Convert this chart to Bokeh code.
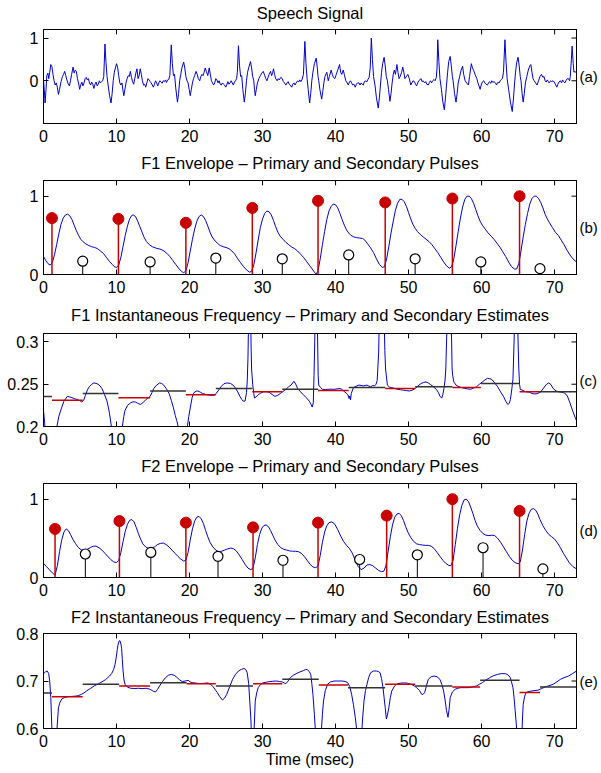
from bokeh.plotting import figure
from bokeh.layouts import column
from bokeh.models import LinearAxis, FixedTicker, CustomJSTickFormatter, Range1d
from bokeh.embed import file_html
from bokeh.resources import INLINE

# ---------------- data ----------------
x_ticks = [0, 10, 20, 30, 40, 50, 60, 70]

speech_pts = [
    (0.0,0.02),(0.1,-0.2),(0.22,-0.52),(0.35,-0.2),(0.45,0.12),(0.6,0.18),(0.72,0.05),(0.85,0.2),(1.0,0.38),(1.15,0.33),(1.3,0.15),(1.45,0.0),(1.6,-0.1),(1.75,-0.05),(1.9,-0.15),(2.05,-0.32),(2.2,-0.2),(2.4,-0.02),(2.6,0.1),(2.75,0.15),(2.9,0.22),(3.05,0.12),(3.2,0.02),(3.4,-0.08),(3.55,-0.12),(3.7,0.0),(3.85,0.15),(4.05,0.32),(4.2,0.18),(4.35,0.25),(4.5,0.22),(4.65,0.05),(4.8,-0.05),(4.95,-0.2),(5.1,-0.1),(5.25,-0.03),(5.4,-0.12),(5.55,-0.05),(5.7,0.05),(5.85,0.08),(6.0,0.02),(6.15,0.05),(6.3,-0.05),(6.45,-0.1),(6.6,-0.03),(6.75,-0.08),(6.9,-0.18),(7.05,-0.08),(7.2,-0.03),(7.35,-0.12),(7.5,-0.08),(7.65,0.0),(7.8,-0.05),(7.95,-0.02),(8.1,0.0),(8.25,0.1),(8.42,0.86),
    (8.55,0.45),(8.7,0.1),(8.85,-0.1),(9.05,-0.35),(9.25,-0.52),(9.4,-0.3),(9.55,0.0),(9.7,0.2),(9.85,0.3),(10.0,0.4),(10.15,0.32),(10.3,0.12),(10.45,-0.05),(10.6,-0.1),(10.75,-0.05),(10.9,-0.25),(11.0,-0.35),(11.15,-0.2),(11.3,-0.05),(11.45,0.05),(11.6,0.12),(11.75,0.1),(11.9,0.22),(12.05,0.08),(12.2,-0.02),(12.35,-0.08),(12.5,0.05),(12.65,0.18),(12.8,0.28),(12.95,0.05),(13.1,0.12),(13.25,0.28),(13.4,0.15),(13.55,0.0),(13.7,-0.1),(13.85,-0.08),(14.0,-0.15),(14.15,-0.05),(14.3,0.05),(14.45,0.02),(14.6,-0.02),(14.75,-0.05),(14.9,-0.1),(15.05,-0.15),(15.2,-0.08),(15.35,0.0),(15.5,-0.05),(15.65,-0.12),(15.8,-0.05),(15.95,0.0),(16.1,-0.03),(16.25,-0.06),(16.4,0.0),(16.55,-0.02),(16.7,0.02),(16.85,-0.04),(17.0,0.02),(17.15,0.03),(17.3,0.12),(17.5,0.84),
    (17.65,0.4),(17.8,0.12),(17.95,0.15),(18.1,-0.15),(18.35,-0.5),(18.5,-0.3),(18.65,0.0),(18.8,0.15),(18.95,0.3),(19.2,0.44),(19.35,0.3),(19.5,0.1),(19.65,0.0),(19.8,-0.05),(19.95,-0.2),(20.1,-0.35),(20.25,-0.2),(20.4,-0.05),(20.55,0.05),(20.7,0.12),(20.9,0.22),(21.05,0.15),(21.2,0.05),(21.4,0.0),(21.55,0.1),(21.7,0.15),(21.85,0.12),(22.0,0.2),(22.15,0.3),(22.3,0.22),(22.5,0.12),(22.7,0.3),(22.85,0.15),(23.0,0.0),(23.15,-0.05),(23.3,-0.1),(23.45,-0.05),(23.6,0.05),(23.75,0.02),(23.9,-0.05),(24.05,0.0),(24.2,-0.08),(24.35,-0.1),(24.5,-0.05),(24.65,-0.08),(24.8,-0.1),(24.95,-0.15),(25.1,-0.1),(25.25,-0.02),(25.4,-0.08),(25.55,-0.05),(25.7,0.0),(25.85,-0.05),(26.0,-0.1),(26.15,-0.03),(26.3,0.0),(26.45,0.05),(26.55,0.2),(26.7,0.82),
    (26.85,0.35),(27.0,0.1),(27.15,0.12),(27.3,-0.2),(27.5,-0.5),(27.65,-0.3),(27.8,0.0),(27.95,0.2),(28.1,0.3),(28.35,0.45),(28.5,0.3),(28.65,0.1),(28.8,0.0),(28.9,-0.2),(29.0,-0.35),(29.15,-0.2),(29.3,-0.05),(29.5,0.05),(29.7,0.12),(29.9,0.18),(30.1,0.22),(30.3,0.12),(30.45,0.05),(30.6,0.0),(30.75,0.08),(30.9,0.15),(31.1,0.22),(31.25,0.12),(31.4,0.2),(31.5,0.28),(31.65,0.15),(31.8,0.05),(32.0,0.0),(32.15,0.05),(32.3,0.02),(32.5,0.08),(32.7,0.05),(32.85,-0.02),(33.0,-0.05),(33.2,-0.1),(33.35,-0.05),(33.5,-0.02),(33.65,-0.08),(33.8,-0.1),(34.0,-0.15),(34.15,-0.08),(34.3,-0.05),(34.45,-0.1),(34.6,-0.05),(34.8,0.0),(34.95,-0.03),(35.1,0.02),(35.25,-0.02),(35.4,0.02),(35.6,0.15),(35.8,0.92),
    (35.95,0.4),(36.1,0.05),(36.25,-0.2),(36.45,-0.52),(36.6,-0.3),(36.75,0.0),(36.9,0.2),(37.1,0.4),(37.35,0.53),(37.5,0.3),(37.6,0.1),(37.7,0.0),(37.85,-0.2),(38.1,-0.43),(38.25,-0.25),(38.4,-0.05),(38.55,0.1),(38.8,0.2),(38.9,0.1),(39.0,0.0),(39.15,0.1),(39.4,0.25),(39.55,0.15),(39.7,0.08),(39.9,0.05),(40.1,0.15),(40.3,0.25),(40.55,0.38),(40.7,0.2),(40.85,0.15),(41.05,0.25),(41.2,0.15),(41.4,0.0),(41.6,-0.05),(41.75,-0.1),(41.9,-0.03),(42.05,0.0),(42.2,-0.05),(42.35,-0.1),(42.5,-0.08),(42.7,-0.15),(42.85,-0.08),(43.0,-0.05),(43.2,-0.05),(43.35,-0.1),(43.5,-0.05),(43.65,-0.08),(43.8,-0.1),(43.95,-0.02),(44.1,0.0),(44.25,-0.03),(44.4,0.02),(44.6,0.08),(44.75,0.3),(44.9,1.0),
    (45.05,0.5),(45.2,0.1),(45.4,-0.1),(45.6,-0.4),(45.85,-0.64),(46.0,-0.4),(46.15,-0.1),(46.3,0.2),(46.45,0.4),(46.65,0.55),(46.8,0.35),(46.95,0.1),(47.1,0.0),(47.25,-0.2),(47.45,-0.48),(47.6,-0.3),(47.75,-0.05),(47.9,0.15),(48.05,0.25),(48.2,0.15),(48.4,0.38),(48.55,0.2),(48.7,0.05),(48.85,0.1),(49.05,0.2),(49.2,0.32),(49.35,0.2),(49.5,0.05),(49.7,0.1),(49.9,0.15),(50.1,0.05),(50.3,-0.1),(50.45,-0.05),(50.6,0.0),(50.8,-0.02),(50.95,-0.08),(51.1,-0.12),(51.25,-0.05),(51.4,0.0),(51.55,0.02),(51.7,0.05),(51.85,-0.02),(52.0,0.0),(52.2,-0.05),(52.35,-0.02),(52.5,-0.08),(52.7,-0.1),(52.85,-0.04),(53.0,0.0),(53.15,-0.05),(53.3,0.0),(53.5,0.03),(53.65,0.0),(53.8,0.08),(53.9,0.3),(54.0,0.96),
    (54.15,0.45),(54.3,0.05),(54.5,-0.2),(54.7,-0.5),(54.9,-0.68),(55.05,-0.4),(55.2,-0.1),(55.35,0.2),(55.5,0.45),(55.7,0.57),(55.85,0.35),(56.0,0.1),(56.1,0.0),(56.3,-0.3),(56.5,-0.5),(56.65,-0.3),(56.8,-0.05),(57.0,0.1),(57.2,0.25),(57.4,0.34),(57.55,0.15),(57.75,0.0),(57.95,-0.05),(58.2,-0.1),(58.35,0.1),(58.6,0.4),(58.75,0.3),(58.9,0.25),(59.1,0.15),(59.35,0.05),(59.5,-0.05),(59.65,-0.12),(59.8,-0.2),(59.95,-0.1),(60.1,-0.03),(60.3,0.0),(60.45,-0.05),(60.6,-0.08),(60.8,-0.1),(60.95,-0.05),(61.1,-0.02),(61.25,-0.06),(61.4,0.0),(61.55,-0.04),(61.7,-0.02),(61.9,-0.05),(62.05,-0.1),(62.2,-0.04),(62.4,-0.05),(62.55,0.0),(62.7,0.03),(62.85,0.05),(63.0,0.2),(63.2,0.96),
    (63.35,0.45),(63.5,0.05),(63.7,-0.2),(63.95,-0.5),(64.2,-0.72),(64.35,-0.45),(64.5,-0.1),(64.65,0.2),(64.8,0.42),(65.0,0.55),(65.15,0.35),(65.3,0.1),(65.4,0.0),(65.55,-0.3),(65.7,-0.5),(65.85,-0.3),(66.0,-0.05),(66.2,0.1),(66.4,0.25),(66.6,0.35),(66.75,0.38),(66.9,0.2),(67.05,0.05),(67.2,0.0),(67.4,-0.05),(67.6,-0.1),(67.8,0.0),(68.0,0.1),(68.2,0.15),(68.4,0.08),(68.55,0.1),(68.7,0.0),(68.85,-0.03),(69.0,0.02),(69.15,-0.02),(69.25,-0.05),(69.45,0.0),(69.6,-0.02),(69.8,0.0),(69.95,-0.03),(70.1,-0.08),(70.3,-0.15),(70.45,-0.08),(70.6,-0.03),(70.8,0.0),(70.95,-0.05),(71.1,0.02),(71.25,-0.02),(71.4,-0.05),(71.55,0.0),(71.75,0.05),(71.9,0.05),(72.05,0.0),(72.15,0.1),(72.3,0.5),(72.4,0.81),(72.55,0.4),(72.65,0.2),(72.8,0.22),(73.0,0.18),
]

f1_env_pts = [
    (0.0,0.23),(0.3,0.18),(0.6,0.14),(0.9,0.12),(1.2,0.15),(1.5,0.25),(1.8,0.38),(2.1,0.52),(2.4,0.64),(2.7,0.72),(3.0,0.76),(3.3,0.77),(3.6,0.75),(3.9,0.7),(4.2,0.63),(4.5,0.56),(4.8,0.5),(5.1,0.45),(5.4,0.42),(5.8,0.39),(6.2,0.37),(6.6,0.355),(7.0,0.345),(7.4,0.33),(7.8,0.3),(8.2,0.27),(8.6,0.22),(9.0,0.17),(9.4,0.13),(9.7,0.1),(10.0,0.09),(10.3,0.12),(10.6,0.22),(10.9,0.36),(11.2,0.5),(11.5,0.62),(11.8,0.71),(12.1,0.755),(12.3,0.76),(12.6,0.74),(12.9,0.68),(13.2,0.61),(13.5,0.54),(13.8,0.47),(14.1,0.42),(14.5,0.38),(14.9,0.355),(15.3,0.34),(15.7,0.33),(16.1,0.32),(16.5,0.3),(16.9,0.27),(17.3,0.23),(17.7,0.18),(18.1,0.13),(18.5,0.08),(18.9,0.04),(19.2,0.02),(19.5,0.05),(19.8,0.15),(20.1,0.3),(20.4,0.45),(20.7,0.58),(21.0,0.68),(21.3,0.74),(21.6,0.76),(21.9,0.74),(22.2,0.69),(22.5,0.62),(22.8,0.54),(23.1,0.48),(23.4,0.44),(23.8,0.4),(24.2,0.37),(24.6,0.355),(25.0,0.345),(25.4,0.33),(25.8,0.3),(26.2,0.26),(26.6,0.2),(27.0,0.15),(27.4,0.1),(27.8,0.06),(28.2,0.03),(28.5,0.04),(28.8,0.12),(29.1,0.27),(29.4,0.44),(29.7,0.6),(30.0,0.71),(30.3,0.78),(30.6,0.81),(30.9,0.8),(31.2,0.76),(31.5,0.69),(31.8,0.61),(32.1,0.54),(32.4,0.49),(32.8,0.45),(33.2,0.41),(33.6,0.38),(34.0,0.35),(34.4,0.33),(34.8,0.3),(35.2,0.26),(35.6,0.22),(36.0,0.17),(36.4,0.12),(36.8,0.07),(37.1,0.03),(37.35,0.0),(37.6,0.05),(37.9,0.2),(38.2,0.38),(38.5,0.55),(38.8,0.7),(39.1,0.81),(39.4,0.87),(39.7,0.9),(40.0,0.89),(40.3,0.85),(40.6,0.78),(40.9,0.7),(41.2,0.63),(41.5,0.57),(41.8,0.53),(42.1,0.5),(42.5,0.48),(42.9,0.47),(43.3,0.465),(43.7,0.46),(44.0,0.44),(44.4,0.39),(44.8,0.34),(45.2,0.28),(45.6,0.2),(46.0,0.13),(46.4,0.09),(46.7,0.1),(47.0,0.2),(47.3,0.36),(47.6,0.53),(47.9,0.68),(48.2,0.82),(48.5,0.91),(48.8,0.96),(49.1,0.96),(49.4,0.93),(49.7,0.87),(50.0,0.79),(50.3,0.71),(50.6,0.64),(50.9,0.59),(51.2,0.55),(51.6,0.51),(52.0,0.48),(52.4,0.45),(52.8,0.42),(53.2,0.38),(53.6,0.33),(54.0,0.28),(54.4,0.22),(54.8,0.16),(55.2,0.11),(55.6,0.08),(55.9,0.1),(56.2,0.2),(56.5,0.37),(56.8,0.55),(57.1,0.72),(57.4,0.86),(57.7,0.96),(58.0,1.0),(58.3,1.0),(58.6,0.97),(58.9,0.91),(59.2,0.83),(59.5,0.75),(59.8,0.68),(60.1,0.63),(60.5,0.58),(60.9,0.53),(61.3,0.49),(61.7,0.45),(62.1,0.4),(62.5,0.35),(62.9,0.29),(63.3,0.23),(63.7,0.16),(64.1,0.1),(64.5,0.07),(64.8,0.07),(65.1,0.14),(65.4,0.3),(65.7,0.48),(66.0,0.64),(66.3,0.78),(66.6,0.9),(66.9,0.97),(67.2,1.0),(67.5,1.0),(67.8,0.97),(68.1,0.92),(68.4,0.85),(68.7,0.77),(69.0,0.71),(69.3,0.66),(69.7,0.6),(70.1,0.54),(70.5,0.5),(70.9,0.44),(71.3,0.38),(71.7,0.31),(72.1,0.25),(72.5,0.2),(73.0,0.16),
]
f1_prim_t = [1.16, 10.26, 19.5, 28.6, 37.6, 46.8, 56.0, 65.2]
f1_prim_v = [0.72, 0.71, 0.66, 0.85, 0.94, 0.92, 0.97, 1.0]
f1_sec_t = [5.37, 14.6, 23.6, 32.7, 41.8, 50.9, 59.9, 68.0]
f1_sec_v = [0.17, 0.16, 0.21, 0.20, 0.25, 0.20, 0.16, 0.075]

f1_if_pts = [
    (0.0,0.219),(0.15,0.205),(0.35,0.18),(1.0,0.15),(1.6,0.17),(1.84,0.2),(2.1,0.212),(2.47,0.222),(2.8,0.23),(3.26,0.2356),(3.8,0.2345),(4.2,0.233),(4.6,0.232),(5.0,0.2305),(5.25,0.229),(5.5,0.231),(5.75,0.237),(6.0,0.243),(6.26,0.247),(6.6,0.25),(6.9,0.2515),(7.2,0.251),(7.47,0.25),(7.75,0.248),(8.0,0.245),(8.35,0.238),(8.7,0.23),(8.9,0.222),(9.05,0.215),(9.3,0.2),(9.6,0.17),(10.2,0.15),(10.6,0.18),(10.8,0.2),(11.0,0.212),(11.15,0.2186),(11.5,0.225),(11.94,0.228),(12.25,0.2292),(12.57,0.229),(12.9,0.2275),(13.26,0.226),(13.6,0.228),(14.05,0.232),(14.35,0.234),(14.6,0.2356),(14.85,0.24),(15.1,0.245),(15.5,0.249),(15.9,0.2515),(16.15,0.251),(16.4,0.2496),(16.8,0.245),(17.2,0.239),(17.5,0.231),(17.8,0.222),(18.05,0.213),(18.25,0.207),(18.5,0.198),(18.9,0.17),(19.3,0.17),(19.7,0.2),(19.9,0.212),(20.1,0.222),(20.35,0.234),(20.6,0.24),(20.9,0.2418),(21.15,0.242),(21.5,0.2405),(21.8,0.239),(22.2,0.238),(22.7,0.237),(23.1,0.2368),(23.5,0.2375),(23.9,0.242),(24.3,0.247),(24.7,0.2505),(25.1,0.2515),(25.6,0.251),(25.95,0.249),(26.25,0.246),(26.6,0.241),(26.9,0.2356),(27.15,0.232),(27.35,0.23),(27.6,0.23),(27.8,0.24),(27.9,0.2526),(28.0,0.28),(28.1,0.33),(28.2,0.4),(28.35,0.4),(28.42,0.3),(28.5,0.268),(28.65,0.25),(28.8,0.239),(28.9,0.2337),(29.1,0.235),(29.4,0.2375),(29.75,0.2395),(30.1,0.241),(30.5,0.2412),(30.9,0.2405),(31.3,0.238),(31.7,0.2356),(32.1,0.237),(32.45,0.239),(32.8,0.2415),(33.2,0.244),(33.55,0.2468),(33.9,0.249),(34.3,0.2535),(34.55,0.25),(34.8,0.245),(35.2,0.241),(35.6,0.2375),(36.0,0.234),(36.4,0.23),(36.65,0.226),(36.8,0.223),(36.95,0.228),(37.05,0.26),(37.15,0.3),(37.25,0.35),(37.32,0.31),(37.38,0.33),(37.45,0.35),(37.55,0.3),(37.62,0.26),(37.7,0.249),(37.95,0.246),(38.2,0.244),(38.6,0.2438),(39.0,0.244),(39.4,0.2442),(39.8,0.244),(40.2,0.2445),(40.6,0.245),(40.85,0.244),(41.1,0.242),(41.45,0.2395),(41.7,0.2375),(41.85,0.233),(41.95,0.236),(42.05,0.2315),(42.15,0.239),(42.45,0.246),(42.8,0.2475),(43.2,0.249),(43.5,0.2485),(43.8,0.248),(44.05,0.2485),(44.3,0.249),(44.55,0.2478),(44.8,0.247),(45.1,0.2485),(45.35,0.248),(45.55,0.25),(45.7,0.2545),(45.9,0.2867),(46.0,0.33),(46.35,0.4),(46.65,0.33),(46.75,0.29),(46.85,0.268),(47.1,0.249),(47.4,0.2465),(47.7,0.246),(48.1,0.245),(48.5,0.244),(48.9,0.2435),(49.3,0.243),(49.7,0.2425),(50.1,0.242),(50.5,0.243),(50.9,0.245),(51.3,0.248),(51.7,0.2508),(52.05,0.2522),(52.4,0.2527),(52.7,0.2515),(53.0,0.2496),(53.4,0.247),(53.8,0.244),(54.1,0.24),(54.3,0.2356),(54.55,0.2337),(54.7,0.238),(54.85,0.245),(55.0,0.255),(55.1,0.268),(55.2,0.3),(55.55,0.4),(55.9,0.3),(55.96,0.268),(56.05,0.26),(56.2,0.2527),(56.5,0.249),(56.9,0.247),(57.3,0.246),(57.7,0.245),(58.1,0.2445),(58.5,0.244),(58.9,0.2455),(59.3,0.247),(59.7,0.25),(60.1,0.2527),(60.45,0.255),(60.8,0.257),(61.1,0.2565),(61.4,0.2557),(61.8,0.2515),(62.2,0.247),(62.6,0.241),(63.0,0.2356),(63.3,0.23),(63.6,0.226),(63.8,0.2275),(63.95,0.232),(64.15,0.245),(64.3,0.2564),(64.45,0.3),(64.75,0.4),(65.0,0.3),(65.1,0.268),(65.2,0.25),(65.3,0.244),(65.7,0.2425),(66.1,0.241),(66.5,0.2408),(66.9,0.239),(67.3,0.2385),(67.7,0.239),(68.1,0.241),(68.5,0.2455),(68.9,0.25),(69.2,0.2515),(69.5,0.2495),(69.8,0.245),(70.2,0.242),(70.6,0.241),(71.0,0.2405),(71.4,0.2395),(71.75,0.236),(72.1,0.228),(72.5,0.218),(72.8,0.211),(73.0,0.207),
]
f1_prim_seg_x0 = [1.16, 10.26, 19.5, 28.6, 37.6, 46.8, 56.0, 65.2]
f1_prim_seg_x1 = [5.37, 14.6, 23.6, 32.7, 41.8, 50.9, 59.9, 68.0]
f1_prim_seg_y = [0.231, 0.234, 0.2375, 0.241, 0.2425, 0.245, 0.246, 0.241]
f1_sec_seg_x0 = [-3.0, 5.37, 14.6, 23.6, 32.7, 41.8, 50.9, 59.9, 68.0]
f1_sec_seg_x1 = [1.16, 10.26, 19.5, 28.6, 37.6, 46.8, 56.0, 65.2, 73.0]
f1_sec_seg_y = [0.2356, 0.239, 0.242, 0.245, 0.244, 0.246, 0.247, 0.251, 0.241]

f2_env_pts = [
    (0.0,0.18),(0.4,0.14),(0.8,0.1),(1.2,0.06),(1.58,0.03),(1.9,0.15),(2.2,0.33),(2.5,0.48),(2.8,0.58),(3.1,0.62),(3.4,0.6),(3.7,0.55),(4.0,0.49),(4.4,0.43),(4.8,0.38),(5.2,0.35),(5.6,0.345),(6.0,0.36),(6.4,0.38),(6.8,0.4),(7.2,0.4),(7.6,0.38),(8.0,0.35),(8.4,0.31),(8.8,0.27),(9.2,0.23),(9.6,0.2),(10.0,0.19),(10.3,0.22),(10.6,0.32),(10.9,0.46),(11.2,0.59),(11.5,0.68),(11.8,0.73),(12.1,0.74),(12.4,0.71),(12.7,0.64),(13.0,0.56),(13.3,0.49),(13.6,0.43),(14.0,0.39),(14.4,0.37),(14.8,0.375),(15.2,0.39),(15.6,0.42),(16.0,0.435),(16.4,0.44),(16.8,0.42),(17.2,0.39),(17.6,0.35),(18.0,0.31),(18.4,0.27),(18.8,0.235),(19.2,0.21),(19.5,0.22),(19.8,0.32),(20.1,0.48),(20.4,0.62),(20.7,0.72),(21.0,0.77),(21.3,0.78),(21.6,0.75),(21.9,0.69),(22.2,0.6),(22.5,0.52),(22.8,0.45),(23.2,0.39),(23.6,0.35),(24.0,0.33),(24.4,0.335),(24.8,0.35),(25.2,0.365),(25.6,0.375),(26.0,0.37),(26.4,0.34),(26.8,0.29),(27.2,0.23),(27.6,0.17),(28.0,0.12),(28.4,0.1),(28.7,0.12),(29.0,0.25),(29.3,0.42),(29.6,0.55),(29.9,0.63),(30.2,0.665),(30.5,0.67),(30.8,0.65),(31.1,0.6),(31.4,0.54),(31.7,0.48),(32.1,0.42),(32.5,0.38),(32.9,0.36),(33.3,0.35),(33.7,0.34),(34.1,0.335),(34.5,0.335),(34.9,0.33),(35.3,0.31),(35.7,0.27),(36.1,0.22),(36.5,0.17),(36.9,0.135),(37.3,0.125),(37.6,0.15),(37.9,0.28),(38.2,0.45),(38.5,0.58),(38.8,0.66),(39.1,0.7),(39.5,0.71),(39.9,0.68),(40.3,0.61),(40.7,0.53),(41.1,0.46),(41.5,0.41),(41.9,0.37),(42.3,0.31),(42.7,0.22),(43.1,0.14),(43.5,0.1),(43.9,0.12),(44.3,0.16),(44.7,0.165),(45.1,0.15),(45.5,0.12),(45.9,0.09),(46.3,0.075),(46.6,0.08),(46.9,0.15),(47.2,0.33),(47.5,0.52),(47.8,0.67),(48.1,0.77),(48.4,0.81),(48.7,0.82),(49.0,0.79),(49.3,0.73),(49.6,0.65),(49.9,0.58),(50.3,0.51),(50.7,0.46),(51.1,0.43),(51.5,0.42),(51.9,0.415),(52.3,0.41),(52.7,0.41),(53.1,0.4),(53.5,0.37),(53.9,0.32),(54.3,0.27),(54.7,0.22),(55.1,0.18),(55.5,0.155),(55.8,0.15),(56.1,0.22),(56.4,0.42),(56.7,0.63),(57.0,0.8),(57.3,0.92),(57.6,0.99),(57.9,1.0),(58.2,0.97),(58.5,0.9),(58.8,0.82),(59.1,0.73),(59.4,0.66),(59.8,0.6),(60.2,0.56),(60.6,0.54),(61.0,0.535),(61.4,0.54),(61.8,0.535),(62.2,0.5),(62.6,0.45),(63.0,0.39),(63.4,0.33),(63.8,0.27),(64.2,0.22),(64.6,0.19),(65.0,0.175),(65.3,0.2),(65.6,0.35),(65.9,0.55),(66.2,0.72),(66.5,0.82),(66.8,0.87),(67.1,0.88),(67.4,0.86),(67.7,0.81),(68.0,0.74),(68.4,0.66),(68.8,0.6),(69.2,0.55),(69.6,0.52),(70.0,0.49),(70.4,0.44),(70.8,0.38),(71.2,0.31),(71.6,0.25),(72.0,0.19),(72.5,0.14),(73.0,0.11),
]
f2_prim_t = [1.58, 10.4, 19.5, 28.7, 37.6, 47.0, 56.0, 65.2]
f2_prim_v = [0.62, 0.72, 0.70, 0.64, 0.70, 0.79, 1.0, 0.85]
f2_sec_t = [5.73, 14.7, 23.9, 32.8, 43.3, 51.2, 60.2, 68.4]
f2_sec_v = [0.30, 0.32, 0.27, 0.22, 0.23, 0.29, 0.38, 0.11]

f2_if_pts = [
    (0.0,0.7153),(0.25,0.719),(0.5,0.721),(0.7,0.716),(0.85,0.7),(1.0,0.665),(1.1,0.62),(1.25,0.56),(1.55,0.54),(1.75,0.57),(1.85,0.6),(2.05,0.644),(2.25,0.655),(2.5,0.662),(2.85,0.665),(3.26,0.667),(3.8,0.6675),(4.3,0.668),(4.75,0.669),(5.2,0.672),(5.55,0.675),(5.9,0.679),(6.4,0.684),(6.94,0.6896),(7.5,0.694),(8.0,0.698),(8.5,0.703),(9.05,0.7104),(9.35,0.716),(9.6,0.724),(9.8,0.735),(9.95,0.7486),(10.1,0.766),(10.2,0.776),(10.35,0.784),(10.47,0.785),(10.6,0.778),(10.7,0.769),(10.8,0.745),(10.9,0.721),(11.05,0.7),(11.2,0.6917),(11.5,0.687),(11.94,0.6847),(12.5,0.6842),(13.0,0.6847),(13.5,0.684),(14.05,0.6847),(14.5,0.683),(14.8,0.6806),(15.1,0.678),(15.36,0.677),(15.6,0.682),(15.9,0.6896),(16.3,0.699),(16.7,0.707),(17.1,0.712),(17.5,0.714),(17.9,0.712),(18.25,0.708),(18.6,0.703),(19.0,0.6986),(19.4,0.7),(19.8,0.7014),(20.1,0.698),(20.36,0.6965),(20.9,0.6955),(21.4,0.6944),(21.95,0.695),(22.5,0.696),(22.9,0.693),(23.25,0.6875),(23.5,0.682),(23.8,0.6757),(24.1,0.668),(24.5,0.66),(24.8,0.664),(25.1,0.672),(25.5,0.688),(25.9,0.7035),(26.3,0.714),(26.7,0.721),(27.1,0.7245),(27.46,0.7264),(27.7,0.724),(27.9,0.7174),(28.1,0.695),(28.25,0.658),(28.4,0.62),(28.55,0.56),(28.7,0.56),(28.85,0.6),(29.0,0.658),(29.2,0.675),(29.4,0.686),(29.75,0.693),(30.1,0.6965),(30.5,0.6975),(30.9,0.6986),(31.4,0.6995),(31.9,0.7),(32.3,0.699),(32.7,0.698),(32.95,0.696),(33.2,0.6944),(33.5,0.7),(33.8,0.707),(34.2,0.712),(34.6,0.7153),(35.1,0.719),(35.6,0.722),(35.9,0.724),(36.1,0.7243),(36.4,0.72),(36.6,0.714),(36.75,0.695),(36.9,0.672),(37.1,0.63),(37.3,0.58),(37.7,0.55),(38.0,0.58),(38.2,0.63),(38.35,0.658),(38.6,0.68),(38.9,0.693),(39.3,0.698),(39.8,0.7),(40.3,0.7),(40.9,0.7),(41.3,0.699),(41.66,0.6965),(41.95,0.688),(42.2,0.672),(42.45,0.65),(42.7,0.6236),(42.95,0.59),(43.2,0.55),(43.5,0.57),(43.7,0.62),(43.9,0.658),(44.1,0.68),(44.3,0.693),(44.55,0.708),(44.8,0.7174),(45.2,0.721),(45.6,0.721),(45.85,0.72),(46.1,0.7174),(46.3,0.705),(46.5,0.686),(46.65,0.665),(46.8,0.644),(46.96,0.62),(47.1,0.628),(47.3,0.644),(47.5,0.665),(47.7,0.679),(48.1,0.69),(48.5,0.6944),(48.9,0.6955),(49.3,0.696),(49.8,0.6955),(50.35,0.693),(50.75,0.69),(51.1,0.686),(51.5,0.68),(51.8,0.672),(52.0,0.672),(52.2,0.6757),(52.45,0.69),(52.7,0.7035),(53.1,0.709),(53.5,0.7104),(53.9,0.709),(54.3,0.7035),(54.55,0.693),(54.8,0.679),(55.0,0.66),(55.2,0.6375),(55.4,0.6236),(55.55,0.64),(55.7,0.665),(56.0,0.677),(56.4,0.6826),(56.8,0.685),(57.2,0.686),(57.7,0.686),(58.2,0.686),(58.7,0.6875),(59.3,0.6896),(59.7,0.693),(60.1,0.6965),(60.6,0.702),(61.1,0.707),(61.6,0.711),(62.2,0.714),(62.7,0.7155),(63.3,0.7153),(63.6,0.713),(63.9,0.708),(64.1,0.698),(64.3,0.686),(64.45,0.665),(64.6,0.6375),(64.75,0.61),(64.9,0.58),(65.2,0.55),(65.5,0.58),(65.6,0.62),(65.7,0.651),(65.9,0.668),(66.1,0.6757),(66.5,0.678),(66.9,0.679),(67.3,0.68),(67.7,0.6806),(68.2,0.684),(68.7,0.6875),(69.2,0.69),(69.8,0.693),(70.3,0.698),(70.8,0.7035),(71.3,0.707),(71.9,0.7104),(72.4,0.715),(73.0,0.721),
]
f2_prim_seg_x0 = [1.16, 10.36, 19.6, 28.7, 37.7, 46.8, 56.0, 65.2]
f2_prim_seg_x1 = [5.37, 14.6, 23.6, 32.7, 41.7, 50.9, 59.8, 68.0]
f2_prim_seg_y = [0.667, 0.6896, 0.6944, 0.6944, 0.6917, 0.693, 0.6875, 0.6757]
f2_sec_seg_x0 = [-3.0, 5.37, 14.6, 23.6, 32.7, 41.7, 50.9, 59.8, 68.0]
f2_sec_seg_x1 = [1.16, 10.36, 19.6, 28.7, 37.7, 46.8, 56.0, 65.2, 73.0]
f2_sec_seg_y = [0.6745, 0.693, 0.6965, 0.6896, 0.7035, 0.686, 0.6896, 0.7014, 0.6875]

titles = ["Speech Signal",
          "F1 Envelope \u2013 Primary and Secondary Pulses",
          "F1 Instantaneous Frequency \u2013 Primary and Secondary Estimates",
          "F2 Envelope \u2013 Primary and Secondary Pulses",
          "F2 Instantaneous Frequency \u2013 Primary and Secondary Estimates"]
tags = ["(a)", "(b)", "(c)", "(d)", "(e)"]
y_ranges = [(-1.0, 1.2), (0.0, 1.2), (0.2, 0.31), (0.0, 1.2), (0.6, 0.8)]
y_ticks = [[0, 1], [0, 1], [0.2, 0.25, 0.3], [0, 1], [0.6, 0.7, 0.8]]
x_label = "Time (msec)"

# ---------------- layout / style ----------------
FONT = "Liberation Sans"
FS = "16px"
TFS = "16.5px"
W = 601
BL, BR = 43, 25
FRAME_H = 96
FRAME_W = W - BL - BR
BLUE = "#0000cc"
RED = "#c80000"
DARK = "#333333"

# (figure height, border top, title standoff)
specs = [(150, 27, 8), (152, 28, 9), (151, 28, 10), (151, 28, 9), (168, 28, 8)]

fmt = CustomJSTickFormatter(code="return tick.toFixed(2).replace(/0+$/,'').replace(/\\.$/,'');")


def style_axis(ax, ticks, standoff):
    ax.ticker = FixedTicker(ticks=ticks)
    ax.major_tick_in = 5
    ax.major_tick_out = 0
    ax.minor_tick_in = 0
    ax.minor_tick_out = 0
    ax.axis_line_color = "black"
    ax.major_tick_line_color = "black"
    ax.major_label_standoff = standoff
    ax.major_label_text_font = FONT
    ax.major_label_text_color = "black"
    ax.major_label_text_font_size = FS
    ax.axis_label_text_font = FONT
    ax.axis_label_text_font_style = "normal"
    ax.axis_label_text_color = "black"
    ax.axis_label_text_font_size = FS


def make_fig(i):
    h, bt, tstand = specs[i]
    bb = h - bt - FRAME_H
    y0, y1 = y_ranges[i]
    p = figure(width=W, height=h, x_range=Range1d(0, 73), y_range=Range1d(y0, y1),
               output_backend="svg", toolbar_location=None, tools="",
               x_axis_location=None, y_axis_location=None,
               min_border_left=BL, min_border_right=BR,
               min_border_top=bt, min_border_bottom=bb)
    p.xgrid.visible = False
    p.ygrid.visible = False
    p.outline_line_color = "black"
    p.outline_line_width = 1
    p.background_fill_color = "white"
    p.border_fill_color = "white"

    bottom = LinearAxis()
    style_axis(bottom, x_ticks, 6)
    p.add_layout(bottom, "below")

    left = LinearAxis(formatter=fmt)
    style_axis(left, y_ticks[i], 5)
    p.add_layout(left, "left")

    # title as the label of a tick-less top axis
    top = LinearAxis(axis_label=titles[i])
    style_axis(top, [], 0)
    top.axis_label_text_font_size = TFS
    top.axis_label_standoff = tstand
    p.add_layout(top, "above")

    # panel tag as the label of a tick-less right axis
    right = LinearAxis(axis_label=tags[i])
    style_axis(right, [], 0)
    right.axis_label_standoff = 3
    right.axis_label_text_font_size = "15px"
    try:
        right.axis_label_orientation = "horizontal"
    except AttributeError:
        pass
    p.add_layout(right, "right")

    # mirrored inward ticks on the top and right edges (box style)
    ppu = FRAME_H / (y1 - y0)
    ppx = FRAME_W / 73.0
    n = len(x_ticks)
    p.segment(x0=x_ticks, y0=[y1] * n, x1=x_ticks, y1=[y1 - 5 / ppu] * n,
              line_color="black", line_width=1)
    m = len(y_ticks[i])
    p.segment(x0=[73] * m, y0=y_ticks[i], x1=[73 - 5 / ppx] * m, y1=y_ticks[i],
              line_color="black", line_width=1)
    return p, bottom


def xs(pts):
    return [a for a, b in pts]


def ys(pts):
    return [b for a, b in pts]


def pulses(p, env, pt, pv, st, sv):
    p.line(xs(env), ys(env), line_color=BLUE, line_width=1)
    p.segment(x0=pt, y0=[0] * len(pt), x1=pt, y1=pv, line_color=RED, line_width=1.5)
    p.segment(x0=st, y0=[0] * len(st), x1=st, y1=sv, line_color="black", line_width=1)
    p.scatter(st, sv, marker="circle", size=10, fill_color="white", line_color="black", line_width=1.2)
    p.scatter(pt, pv, marker="circle", size=11, fill_color=RED, line_color=RED, line_width=1)


def estimates(p, pts, px0, px1, py, sx0, sx1, sy):
    p.line(xs(pts), ys(pts), line_color=BLUE, line_width=1)
    p.segment(x0=sx0, y0=sy, x1=sx1, y1=sy, line_color=DARK, line_width=1.5)
    p.segment(x0=px0, y0=py, x1=px1, y1=py, line_color=RED, line_width=1.5)


figs = []

p, _ = make_fig(0)
p.line(xs(speech_pts), ys(speech_pts), line_color=BLUE, line_width=1)
figs.append(p)

p, _ = make_fig(1)
pulses(p, f1_env_pts, f1_prim_t, f1_prim_v, f1_sec_t, f1_sec_v)
figs.append(p)

p, _ = make_fig(2)
estimates(p, f1_if_pts, f1_prim_seg_x0, f1_prim_seg_x1, f1_prim_seg_y,
          f1_sec_seg_x0, f1_sec_seg_x1, f1_sec_seg_y)
figs.append(p)

p, _ = make_fig(3)
pulses(p, f2_env_pts, f2_prim_t, f2_prim_v, f2_sec_t, f2_sec_v)
figs.append(p)

p, bottom_e = make_fig(4)
estimates(p, f2_if_pts, f2_prim_seg_x0, f2_prim_seg_x1, f2_prim_seg_y,
          f2_sec_seg_x0, f2_sec_seg_x1, f2_sec_seg_y)
bottom_e.axis_label = x_label
bottom_e.axis_label_standoff = 1
figs.append(p)

layout = column(*figs, spacing=0)
open("out.html", "w").write(file_html(layout, INLINE))
